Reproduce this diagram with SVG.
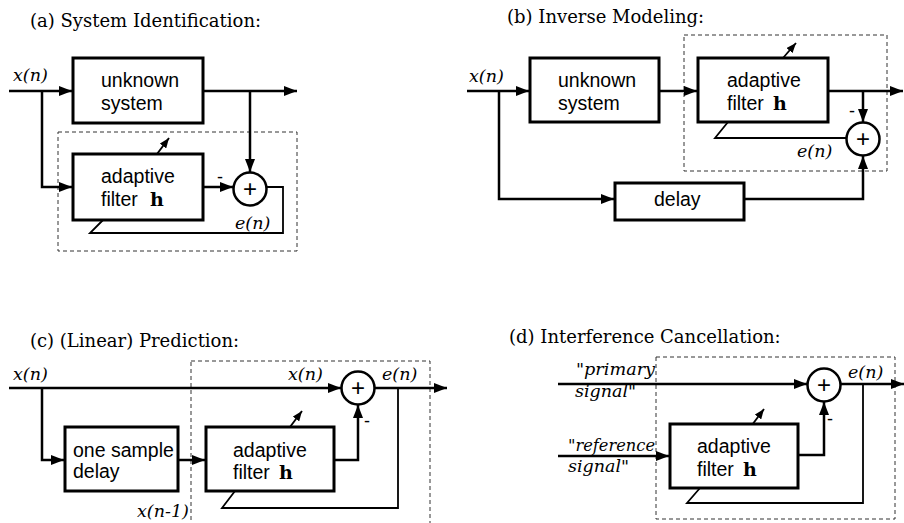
<svg xmlns="http://www.w3.org/2000/svg" width="904" height="523" viewBox="0 0 904 523">
<defs>
<marker id="ah" markerUnits="userSpaceOnUse" markerWidth="13" markerHeight="10" refX="13" refY="5" orient="auto"><path d="M0,0 L13,5 L0,10 z" fill="#000"/></marker>
<marker id="as" markerUnits="userSpaceOnUse" markerWidth="10" markerHeight="8" refX="10" refY="4" orient="auto"><path d="M0,0 L10,4 L0,8 z" fill="#000"/></marker>
</defs>
<style>
.box{fill:#fff;stroke:#000;stroke-width:3}
.sum{fill:#fff;stroke:#000;stroke-width:2.5}
.dash{fill:none;stroke:#333;stroke-width:1;stroke-dasharray:4 3}
.w{fill:none;stroke:#000;stroke-width:2.5}
.fb{fill:none;stroke:#000;stroke-width:1.8}
.arr{marker-end:url(#ah)}
.adp{fill:none;stroke:#000;stroke-width:1.8;marker-end:url(#as)}
.t{font-family:"Liberation Sans",Arial,sans-serif;font-size:19.5px;fill:#000}
.ti{font-family:"DejaVu Serif",serif;font-size:18px;fill:#000}
.it{font-family:"DejaVu Serif",serif;font-style:italic;font-size:17.5px;fill:#000}
.hb{font-family:"DejaVu Serif",serif;font-weight:bold;font-size:19px}
.plus{font-family:"Liberation Sans",Arial,sans-serif;font-size:24px;text-anchor:middle}
.minus{font-family:"Liberation Sans",Arial,sans-serif;font-size:18px}
</style>

<g id="titles">
<text class="ti" x="30" y="27">(a) System Identification:</text>
<text class="ti" x="507" y="23">(b) Inverse Modeling:</text>
<text class="ti" x="30" y="347">(c) (Linear) Prediction:</text>
<text class="ti" x="509" y="343">(d) Interference Cancellation:</text>
</g>

<g id="dashed-boxes">
<rect class="dash" x="58" y="132" width="239" height="119"/>
<rect class="dash" x="684" y="35" width="203" height="136"/>
<rect class="dash" x="191" y="361" width="239" height="180"/>
<rect class="dash" x="656" y="357" width="239" height="162"/>
</g>

<g id="connectors">
<!-- (a) -->
<path class="w arr" d="M9,91 H72"/>
<path class="w arr" d="M203,91 H297"/>
<path class="w arr" d="M250,91 V172"/>
<path class="w arr" d="M42,91 V187 H72"/>
<path class="w arr" d="M203,187 H233"/>
<path class="fb" d="M266,187 H283 V233 H90 L103,220"/>
<path class="adp" d="M157,154 L169,138"/>
<!-- (b) -->
<path class="w arr" d="M467,91 H529"/>
<path class="w arr" d="M659,91 H697"/>
<path class="w arr" d="M828,91 H903"/>
<path class="w arr" d="M863,91 V122"/>
<path class="w arr" d="M499,91 V199 H614"/>
<path class="w arr" d="M744,199 H863 V156"/>
<path class="fb" d="M846,138 H715 L728,122"/>
<path class="adp" d="M783,58 L796,43"/>
<!-- (c) -->
<path class="w arr" d="M9,388 H341"/>
<path class="w arr" d="M375,388 H447"/>
<path class="w arr" d="M42,388 V460 H64"/>
<path class="w arr" d="M178,460 H205"/>
<path class="w arr" d="M334,460 H358 V405"/>
<path class="fb" d="M398,388 V508 H222 L235,491"/>
<path class="adp" d="M290,427 L302,411"/>
<!-- (d) -->
<path class="w arr" d="M558,384 H807"/>
<path class="w arr" d="M841,384 H904"/>
<path class="w arr" d="M558,456 H669"/>
<path class="w arr" d="M798,455 H824 V402"/>
<path class="fb" d="M863,384 V503 H687 L700,488"/>
<path class="adp" d="M752,425 L764,409"/>
</g>

<g id="a-unknown">
<rect class="box" x="73" y="58" width="130" height="65"/>
<text class="t" x="101" y="87">unknown</text>
<text class="t" x="101" y="110">system</text>
</g>
<g id="a-filter">
<rect class="box" x="73" y="154" width="130" height="66"/>
<text class="t" x="101" y="183">adaptive</text>
<text class="t" x="101" y="206">filter</text>
<text class="hb" x="150" y="206">h</text>
</g>
<g id="a-sum">
<circle class="sum" cx="250" cy="189" r="16.5"/>
<text class="plus" x="250" y="197">+</text>
</g>
<g id="a-labels">
<text class="it" x="13" y="81">x(n)</text>
<text class="it" x="235" y="229">e(n)</text>
<text class="minus" x="217" y="183">-</text>
</g>

<g id="b-unknown">
<rect class="box" x="530" y="58" width="129" height="64"/>
<text class="t" x="558" y="87">unknown</text>
<text class="t" x="558" y="110">system</text>
</g>
<g id="b-filter">
<rect class="box" x="698" y="58" width="130" height="64"/>
<text class="t" x="727" y="87">adaptive</text>
<text class="t" x="727" y="110">filter</text>
<text class="hb" x="773" y="110">h</text>
</g>
<g id="b-delay">
<rect class="box" x="615" y="183" width="129" height="37"/>
<text class="t" x="654" y="206">delay</text>
</g>
<g id="b-sum">
<circle class="sum" cx="863" cy="139" r="16.5"/>
<text class="plus" x="863" y="147">+</text>
</g>
<g id="b-labels">
<text class="it" x="469" y="82">x(n)</text>
<text class="it" x="797" y="157">e(n)</text>
<text class="minus" x="849" y="117">-</text>
</g>

<g id="c-delay">
<rect class="box" x="65" y="427" width="113" height="64"/>
<text class="t" x="73" y="457">one sample</text>
<text class="t" x="73" y="478">delay</text>
</g>
<g id="c-filter">
<rect class="box" x="206" y="427" width="128" height="64"/>
<text class="t" x="233" y="457">adaptive</text>
<text class="t" x="233" y="479">filter</text>
<text class="hb" x="279" y="479">h</text>
</g>
<g id="c-sum">
<circle class="sum" cx="358" cy="388" r="16.5"/>
<text class="plus" x="358" y="396">+</text>
</g>
<g id="c-labels">
<text class="it" x="13" y="380">x(n)</text>
<text class="it" x="288" y="380">x(n)</text>
<text class="it" x="382" y="380">e(n)</text>
<text class="it" x="137" y="517">x(n-1)</text>
<text class="minus" x="364" y="427">-</text>
</g>

<g id="d-filter">
<rect class="box" x="670" y="424" width="128" height="64"/>
<text class="t" x="697" y="453">adaptive</text>
<text class="t" x="697" y="476">filter</text>
<text class="hb" x="743" y="476">h</text>
</g>
<g id="d-sum">
<circle class="sum" cx="824" cy="385" r="16.5"/>
<text class="plus" x="824" y="393">+</text>
</g>
<g id="d-labels">
<text class="it" x="576" y="375" textLength="79" lengthAdjust="spacingAndGlyphs">"primary</text>
<text class="it" x="575" y="397">signal"</text>
<text class="it" x="568" y="451" textLength="87" lengthAdjust="spacingAndGlyphs">"reference</text>
<text class="it" x="568" y="472">signal"</text>
<text class="it" x="848" y="378">e(n)</text>
<text class="minus" x="827" y="425">-</text>
</g>
</svg>
